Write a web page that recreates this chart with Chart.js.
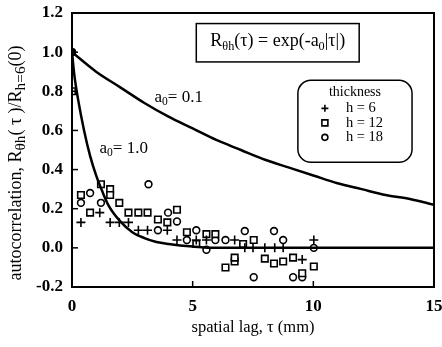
<!DOCTYPE html>
<html>
<head>
<meta charset="utf-8">
<script src="https://cdn.jsdelivr.net/npm/chart.js@4/dist/chart.umd.min.js"></script>
<style>
  html, body { margin: 0; padding: 0; background: #fff; }
  #wrap { width: 442px; height: 347px; }
</style>
</head>
<body>
<div id="wrap"><canvas id="chart"></canvas></div>
<script>
// --- Datos ---
const xTickValues = [0, 5, 10, 15];
const yTickValues = [-0.2, 0, 0.2, 0.4, 0.6, 0.8, 1.0, 1.2];

// punto común en tau = 0
const zeroLagX = [0];
const zeroLagY = [1.0];

// h = 6 (cruces)
const h6X = [0.37, 1.15, 1.58, 1.96, 2.34, 2.75, 3.13, 3.95, 4.35, 5.15, 5.57, 6.74, 7.16, 7.5, 7.99, 8.4, 8.75, 9.54, 10.02];
const h6Y = [0.13, 0.18, 0.13, 0.13, 0.13, 0.09, 0.09, 0.09, 0.04, 0.04, 0.04, 0.04, 0.0, 0.0, 0.0, 0.0, 0.0, -0.06, 0.04];

// h = 12 (cuadrados)
const h12X = [0, 0.37, 0.75, 1.2, 1.58, 1.58, 1.96, 2.34, 2.75, 3.13, 3.56, 3.95, 4.35, 4.76, 5.15, 5.57, 5.94, 6.36, 6.74, 6.74, 7.09, 7.53, 7.99, 8.37, 8.75, 9.16, 9.54, 10.02];
const h12Y = [0.8, 0.27, 0.18, 0.325, 0.30, 0.27, 0.23, 0.18, 0.18, 0.18, 0.145, 0.13, 0.195, 0.08, 0.02, 0.07, 0.07, -0.10, -0.07, -0.05, 0.02, 0.04, -0.055, -0.08, -0.07, -0.05, -0.13, -0.095];

// h = 18 (círculos)
const h18X = [0.37, 0.75, 1.2, 3.17, 3.56, 3.98, 4.35, 4.76, 5.15, 5.57, 5.94, 6.36, 7.16, 7.53, 8.37, 8.75, 9.16, 9.54, 10.02];
const h18Y = [0.23, 0.28, 0.23, 0.325, 0.09, 0.18, 0.135, 0.04, 0.09, -0.01, 0.04, 0.04, 0.086, -0.15, 0.086, 0.04, -0.15, -0.15, 0.0];

// curva a0 = 0.1
const slowX = [0, 1, 2, 3, 4, 5, 6, 7, 8, 9, 10, 11, 12, 13, 14, 15];
const slowY = [1.00, 0.90, 0.82, 0.74, 0.67, 0.61, 0.55, 0.50, 0.45, 0.41, 0.37, 0.33, 0.30, 0.27, 0.25, 0.22];

// curva a0 = 1.0
const fastX = [0, 0.1, 0.25, 0.5, 0.75, 1, 1.25, 1.5, 2, 2.5, 3, 3.5, 4, 5, 6, 8, 10, 15];
const fastY = [1.00, 0.88, 0.76, 0.60, 0.47, 0.37, 0.29, 0.22, 0.135, 0.08, 0.05, 0.03, 0.02, 0.007, 0, 0, 0, 0];

// --- Utilidades ---
const SERIF = '"Liberation Serif", "DejaVu Serif", serif';
function pts(xs, ys) { return xs.map((x, i) => ({ x: x, y: ys[i] })); }

function richWidth(ctx, segs, size, weight, subScale) {
    let w = 0;
    segs.forEach(s => {
        const fs = s.sub ? size * subScale : size;
        ctx.font = `${weight} ${fs}px ${SERIF}`;
        w += ctx.measureText(s.t).width;
    });
    return w;
}
function drawRich(ctx, segs, x, y, size, align, weight, subScale) {
    weight = weight || 'normal';
    subScale = subScale || 0.68;
    let cx = x;
    if (align === 'center') cx = x - richWidth(ctx, segs, size, weight, subScale) / 2;
    ctx.textBaseline = 'middle';
    ctx.textAlign = 'left';
    segs.forEach(s => {
        const fs = s.sub ? size * subScale : size;
        ctx.font = `${weight} ${fs}px ${SERIF}`;
        ctx.fillText(s.t, cx, s.sub ? y + size * 0.3 : y);
        cx += ctx.measureText(s.t).width;
    });
}

// --- Plugin: marco, ticks hacia dentro, títulos y anotaciones ---
const decorPlugin = {
    id: 'decor',
    afterDraw(chart) {
        const ctx = chart.ctx;
        const a = chart.chartArea;
        const xs = chart.scales.x, ys = chart.scales.y;
        ctx.save();
        ctx.strokeStyle = '#000';
        ctx.fillStyle = '#000';

        // marco
        ctx.lineWidth = 2;
        ctx.strokeRect(a.left, a.top, a.right - a.left, a.bottom - a.top);

        // ticks hacia dentro
        ctx.lineWidth = 1.5;
        yTickValues.forEach(v => {
            const py = ys.getPixelForValue(v);
            ctx.beginPath(); ctx.moveTo(a.left, py); ctx.lineTo(a.left + 6, py); ctx.stroke();
        });
        xTickValues.forEach(v => {
            const px = xs.getPixelForValue(v);
            ctx.beginPath(); ctx.moveTo(px, a.bottom); ctx.lineTo(px, a.bottom - 6); ctx.stroke();
        });

        // título eje x
        drawRich(ctx, [{ t: 'spatial lag, τ (mm)' }], (a.left + a.right) / 2, 328, 16.5, 'center');

        // título eje y (rotado)
        ctx.save();
        ctx.translate(16, 163);
        ctx.rotate(-Math.PI / 2);
        drawRich(ctx, [
            { t: 'autocorrelation, R' }, { t: 'θh', sub: true },
            { t: '( τ )/R' }, { t: 'h=6', sub: true }, { t: '(0)' }
        ], 0, 0, 18, 'center', 'normal', 0.85);
        ctx.restore();

        // etiquetas de curvas
        drawRich(ctx, [{ t: 'a' }, { t: '0', sub: true }, { t: '= 0.1' }],
            xs.getPixelForValue(3.42), ys.getPixelForValue(0.77), 17, 'left');
        drawRich(ctx, [{ t: 'a' }, { t: '0', sub: true }, { t: '= 1.0' }],
            xs.getPixelForValue(1.14), ys.getPixelForValue(0.51), 17, 'left');

        // caja de la fórmula
        const fx0 = xs.getPixelForValue(5.15), fx1 = xs.getPixelForValue(11.9);
        const fy0 = ys.getPixelForValue(1.146), fy1 = ys.getPixelForValue(0.95);
        ctx.lineWidth = 1.5;
        ctx.strokeRect(fx0, fy0, fx1 - fx0, fy1 - fy0);
        drawRich(ctx, [
            { t: 'R' }, { t: 'θh', sub: true }, { t: '(τ) = exp(-a' }, { t: '0', sub: true }, { t: '|τ|)' }
        ], (fx0 + fx1) / 2, (fy0 + fy1) / 2 - 1, 18, 'center');

        // leyenda con esquinas redondeadas
        const lx0 = xs.getPixelForValue(9.36), lx1 = xs.getPixelForValue(14.09);
        const ly0 = ys.getPixelForValue(0.856), ly1 = ys.getPixelForValue(0.437);
        ctx.beginPath();
        ctx.roundRect(lx0, ly0, lx1 - lx0, ly1 - ly0, 13);
        ctx.stroke();
        drawRich(ctx, [{ t: 'thickness' }], (lx0 + lx1) / 2, ly0 + 12, 14, 'center');
        const mx = lx0 + 27, tx = lx0 + 48;
        const rows = [['h = 6', 'cross'], ['h = 12', 'rect'], ['h = 18', 'circle']];
        rows.forEach((r, i) => {
            const ry = ly0 + 28 + i * 14.5;
            ctx.lineWidth = 1.6;
            ctx.beginPath();
            if (r[1] === 'cross') {
                ctx.moveTo(mx - 3.5, ry); ctx.lineTo(mx + 3.5, ry);
                ctx.moveTo(mx, ry - 3.5); ctx.lineTo(mx, ry + 3.5);
            } else if (r[1] === 'rect') {
                ctx.rect(mx - 3, ry - 3, 6, 6);
            } else {
                ctx.arc(mx, ry, 3, 0, Math.PI * 2);
            }
            ctx.stroke();
            drawRich(ctx, [{ t: r[0] }], tx, ry, 14.5, 'left');
        });

        ctx.restore();
    }
};

// --- Gráfico ---
const ctx = document.getElementById('chart').getContext('2d');
new Chart(ctx, {
    type: 'scatter',
    data: {
        datasets: [
            {
                label: 'a0 = 0.1', data: pts(slowX, slowY), showLine: true,
                borderColor: '#000', borderWidth: 2.5, pointRadius: 0,
                cubicInterpolationMode: 'monotone', fill: false
            },
            {
                label: 'a0 = 1.0', data: pts(fastX, fastY), showLine: true,
                borderColor: '#000', borderWidth: 2.5, pointRadius: 0,
                cubicInterpolationMode: 'monotone', fill: false
            },
            {
                label: 'h = 6', data: pts(h6X, h6Y), pointStyle: 'cross',
                pointRadius: 4.5, borderColor: '#000', borderWidth: 1.6, backgroundColor: '#000'
            },
            {
                label: 'h = 12', data: pts(h12X, h12Y), pointStyle: 'rect',
                pointRadius: 4.6, borderColor: '#000', borderWidth: 1.6, backgroundColor: '#fff'
            },
            {
                label: 'h = 18', data: pts(h18X, h18Y), pointStyle: 'circle',
                pointRadius: 3.4, borderColor: '#000', borderWidth: 1.6, backgroundColor: '#fff'
            },
            {
                label: 'tau = 0', data: pts(zeroLagX, zeroLagY), pointStyle: 'circle',
                pointRadius: 4, borderColor: '#000', borderWidth: 1, backgroundColor: '#000'
            }
        ]
    },
    options: {
        responsive: true,
        maintainAspectRatio: false,
        animation: false,
        layout: { padding: { top: 13, right: 8, left: 0, bottom: 0 } },
        plugins: { legend: { display: false }, tooltip: { enabled: false } },
        scales: {
            x: {
                type: 'linear', min: 0, max: 15,
                grid: { display: false, drawTicks: false },
                border: { display: false },
                afterBuildTicks: s => { s.ticks = xTickValues.map(v => ({ value: v })); },
                afterFit: s => { s.height = 60; s.paddingLeft = 0; s.paddingRight = 0; },
                ticks: {
                    color: '#000', padding: 9,
                    font: { family: SERIF, size: 17, weight: 'bold' },
                    callback: v => String(v)
                }
            },
            y: {
                type: 'linear', min: -0.2, max: 1.2,
                grid: { display: false, drawTicks: false },
                border: { display: false },
                afterBuildTicks: s => { s.ticks = yTickValues.map(v => ({ value: v })); },
                afterFit: s => { s.width = 72; s.paddingTop = 0; s.paddingBottom = 0; },
                ticks: {
                    color: '#000', padding: 9,
                    font: { family: SERIF, size: 17, weight: 'bold' },
                    callback: v => Number(v).toFixed(1)
                }
            }
        }
    },
    plugins: [decorPlugin]
});
</script>
</body>
</html>
